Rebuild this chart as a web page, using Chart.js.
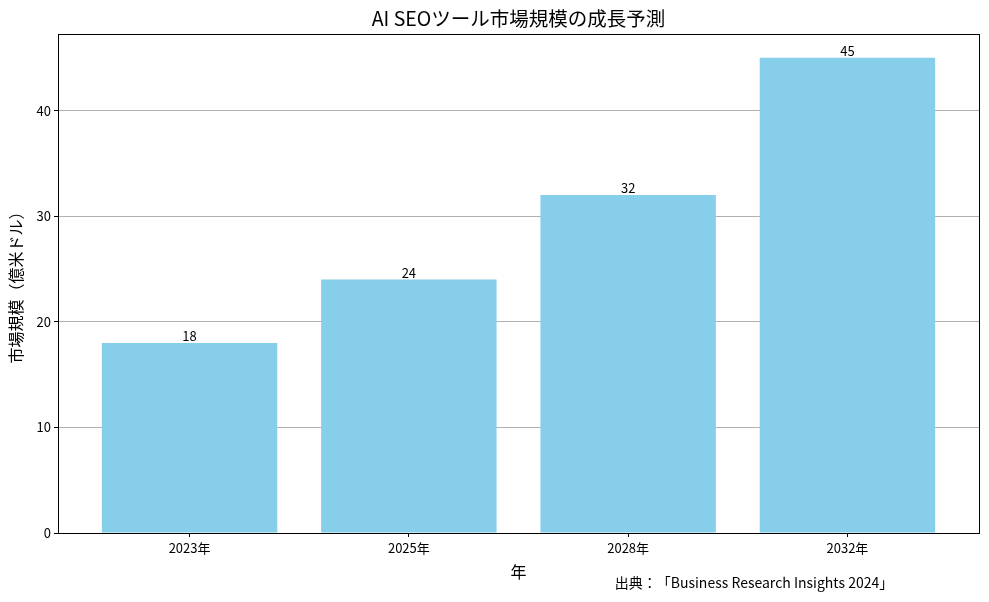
<!DOCTYPE html>
<html>
<head>
<meta charset="utf-8">
<script src="https://cdn.jsdelivr.net/npm/chart.js@4"></script>
<style>
  html, body { margin: 0; padding: 0; background: #fff; }
  #wrap { width: 989px; height: 602px; }
</style>
</head>
<body>
<div id="wrap"><canvas id="seoChart"></canvas></div>
<script>
const years = ['2023年', '2025年', '2028年', '2032年']
const marketSize = [18, 24, 32, 45]
const yTicks = [0, 10, 20, 30, 40]
const titleText = 'AI SEOツール市場規模の成長予測'
const sourcePrefix = '出典：「'
const sourceRest = 'Business Research Insights 2024」'

const FONT = '"Noto Sans CJK JP", "Noto Sans", sans-serif'

// frame, bar labels, title, source note
const extras = {
    id: 'extras',
    afterDraw(chart) {
        let ctx = chart.ctx, a = chart.chartArea
        ctx.save()
        ctx.strokeStyle = '#000'
        ctx.lineWidth = 1
        ctx.strokeRect(Math.round(a.left) + 0.5, Math.round(a.top) + 0.5,
            Math.round(a.right - a.left), Math.round(a.bottom - a.top))

        ctx.fillStyle = '#000'
        ctx.textAlign = 'center'
        ctx.textBaseline = 'bottom'
        ctx.font = '13px ' + FONT
        let meta = chart.getDatasetMeta(0)
        meta.data.forEach((bar, i) => {
            ctx.fillText(String(marketSize[i]), bar.x, bar.y)
        })

        ctx.font = '19.5px ' + FONT
        ctx.textBaseline = 'middle'
        ctx.fillText(titleText, (a.left + a.right) / 2, 19)

        // full-width punctuation drawn one by one so it keeps its full em
        let size = 14
        ctx.font = size + 'px ' + FONT
        ctx.textAlign = 'left'
        let restW = ctx.measureText(sourceRest).width
        let x = 754 - (sourcePrefix.length * size + restW) / 2
        for (let ch of sourcePrefix) {
            ctx.fillText(ch, x, 583)
            x += size
        }
        ctx.fillText(sourceRest, x, 583)
        ctx.restore()
    }
}

let elem = document.getElementById('seoChart')
let chart = new Chart(elem, {
    type: 'bar',
    data: {
        datasets: [{
            data: marketSize.map((v, i) => ({ x: i, y: v })),
            backgroundColor: '#87CEEB',
            barPercentage: 0.8,
            categoryPercentage: 1
        }]
    },
    options: {
        responsive: true,
        maintainAspectRatio: false,
        animation: false,
        layout: { padding: { top: 34, right: 10, left: 0, bottom: 0 } },
        plugins: {
            legend: { display: false },
            tooltip: { enabled: false }
        },
        scales: {
            x: {
                type: 'linear',
                min: -0.6,
                max: 3.6,
                offset: false,
                afterBuildTicks: s => { s.ticks = years.map((y, i) => ({ value: i })) },
                afterFit: s => { s.height = 69 },
                ticks: {
                    callback: v => years[v],
                    color: '#000',
                    font: { family: FONT, size: 13 },
                    padding: 3
                },
                grid: { offset: false, drawOnChartArea: false, tickLength: 4, tickColor: '#000' },
                border: { color: '#000' },
                title: {
                    display: true,
                    text: '年',
                    color: '#000',
                    font: { family: FONT, size: 16 },
                    padding: { top: 2, bottom: 20 }
                }
            },
            y: {
                min: 0,
                max: 47.25,
                afterBuildTicks: s => { s.ticks = yTicks.map(v => ({ value: v })) },
                afterFit: s => { s.width = 58 },
                ticks: {
                    color: '#000',
                    font: { family: FONT, size: 13 },
                    padding: 3
                },
                grid: { color: '#b0b0b0', tickLength: 4, tickColor: '#000' },
                border: { color: '#000' },
                title: {
                    display: true,
                    text: '市場規模（億米ドル）',
                    color: '#000',
                    font: { family: FONT, size: 16 },
                    padding: { top: 6, bottom: 2 }
                }
            }
        }
    },
    plugins: [extras]
})
</script>
</body>
</html>
